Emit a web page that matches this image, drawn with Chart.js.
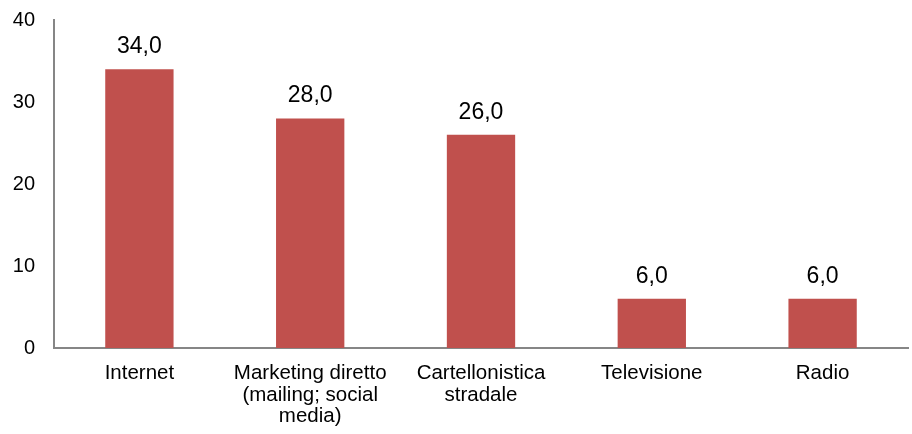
<!DOCTYPE html>
<html><head><meta charset="utf-8">
<script src="https://cdn.jsdelivr.net/npm/chart.js@4"></script>
<style>html,body{margin:0;padding:0;background:#fff}#wrap{width:912px;height:434px}</style>
</head><body><div id="wrap"><canvas id="c" width="912" height="434"></canvas></div>
<script>
const categories = [["Internet"], ["Marketing diretto", "(mailing; social", "media)"], ["Cartellonistica", "stradale"], ["Televisione"], ["Radio"]];
const values = [34.0, 28.0, 26.0, 6.0, 6.0];
const yTicks = [0, 10, 20, 30, 40];

const valueLabels = {
  id: 'valueLabels',
  afterDatasetsDraw(chart) {
    const ctx = chart.ctx;
    const meta = chart.getDatasetMeta(0);
    ctx.save();
    ctx.font = '23px "Liberation Sans", Arial, sans-serif';
    ctx.fillStyle = '#000';
    ctx.textAlign = 'center';
    ctx.textBaseline = 'alphabetic';
    meta.data.forEach((bar, i) => {
      ctx.fillText(values[i].toFixed(1).replace('.', ','), bar.x, bar.y - 16);
    });
    ctx.restore();
  }
};

new Chart(document.getElementById('c'), {
  type: 'bar',
  data: {
    labels: categories,
    datasets: [{ data: values, backgroundColor: '#C0504D', borderWidth: 0, barPercentage: 0.4, categoryPercentage: 1 }]
  },
  options: {
    responsive: false,
    animation: false,
    layout: { padding: { top: 20, right: 4, left: 0, bottom: 0 } },
    plugins: { legend: { display: false }, tooltip: { enabled: false } },
    scales: {
      x: {
        grid: { display: false, drawTicks: false },
        border: { display: true, color: '#868686', width: 2 },
        ticks: { color: '#000', font: { family: '"Liberation Sans", Arial, sans-serif', size: 20.5, lineHeight: 1.07 }, padding: 14, maxRotation: 0, autoSkip: false },
        afterFit(s) { s.height = 86; s.paddingLeft = 0; s.paddingRight = 0; }
      },
      y: {
        min: 0, max: 40,
        afterBuildTicks(s) { s.ticks = yTicks.map(v => ({ value: v })); },
        grid: { display: false, drawTicks: false },
        border: { display: true, color: '#868686', width: 2 },
        ticks: { color: '#000', font: { family: '"Liberation Sans", Arial, sans-serif', size: 20 }, padding: 19 },
        afterFit(s) { s.width = 54; s.paddingTop = 0; s.paddingBottom = 0; }
      }
    }
  },
  plugins: [valueLabels]
});
</script></body></html>
